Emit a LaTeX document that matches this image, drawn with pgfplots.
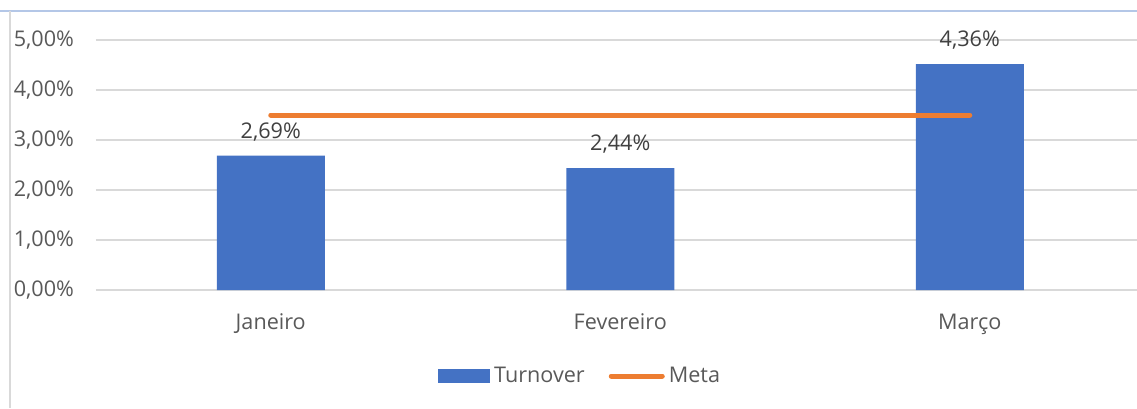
\documentclass[border=0pt]{standalone}
\usepackage{fontspec}
\setmainfont{Open Sans}
\usepackage{pgfplots}
\pgfplotsset{compat=1.18}
\definecolor{cbar}{HTML}{4472C4}
\definecolor{cmeta}{HTML}{ED7D31}
\definecolor{cgrid}{HTML}{D9D9D9}
\definecolor{ctext}{HTML}{595959}
\definecolor{clabel}{HTML}{404040}
\definecolor{cframe}{HTML}{B4C7E7}
\definecolor{cleft}{HTML}{D9D9D9}

\begin{document}
\begin{tikzpicture}[font=\fontsize{10.8}{12}\selectfont]
\path[use as bounding box] (-48pt,-59pt) rectangle (520.5pt,145pt);
\draw[cframe, line width=0.8pt] (-48pt,139.5pt) -- (520.5pt,139.5pt);
\draw[cleft, line width=0.8pt] (-43pt,139.5pt) -- (-43pt,-59pt);
\begin{axis}[
  at={(0,0)}, anchor=south west,
  scale only axis,
  width=520.5pt, height=125pt,
  xmin=-0.5, xmax=2.4785,
  ymin=0, ymax=0.05,
  axis line style={draw=none},
  major tick length=0pt,
  scaled ticks=false,
  ytick={0,0.01,0.02,0.03,0.04,0.05},
  yticklabels={{0,00\%},{1,00\%},{2,00\%},{3,00\%},{4,00\%},{5,00\%}},
  xtick={0,1,2},
  xticklabels={Janeiro,Fevereiro,Março},
  ymajorgrids,
  grid style={cgrid, line width=0.8pt},
  tick label style={text=ctext, font=\fontsize{10.8}{12}\selectfont},
  yticklabel style={anchor=east, xshift=-7.5pt},
  xticklabel style={anchor=north, yshift=-8.5pt},
  clip=false,
  legend style={at={(0.466,-0.344)}, anchor=center, draw=none, fill=none,
    legend columns=2, text=ctext, font=\fontsize{10.8}{12}\selectfont,
    /tikz/every even column/.append style={column sep=10pt},
    inner sep=0pt},
]
\addplot[ybar, bar width=54pt, fill=cbar, draw=none,
  point meta=explicit symbolic,
  nodes near coords,
  nodes near coords style={text=clabel, font=\fontsize{10.8}{12}\selectfont, anchor=south, yshift=3.8pt},
  legend image code/.code={\fill[cbar] (0pt,-3.5pt) rectangle (26pt,3.5pt);}]
  coordinates {
    (0,0.0269) [2,69\%]
    (1,0.0244) [2,44\%]
    (2,0.0452) [4,36\%]
  };
\addlegendentry{Turnover}
\addplot[cmeta, line width=2.5pt, line cap=round,
  legend image code/.code={\draw[cmeta, line width=2.5pt, line cap=round] (1.5pt,0pt) -- (27pt,0pt);}]
  coordinates {(0,0.035) (1,0.035) (2,0.035)};
\addlegendentry{Meta}
\end{axis}
\end{tikzpicture}
\end{document}
